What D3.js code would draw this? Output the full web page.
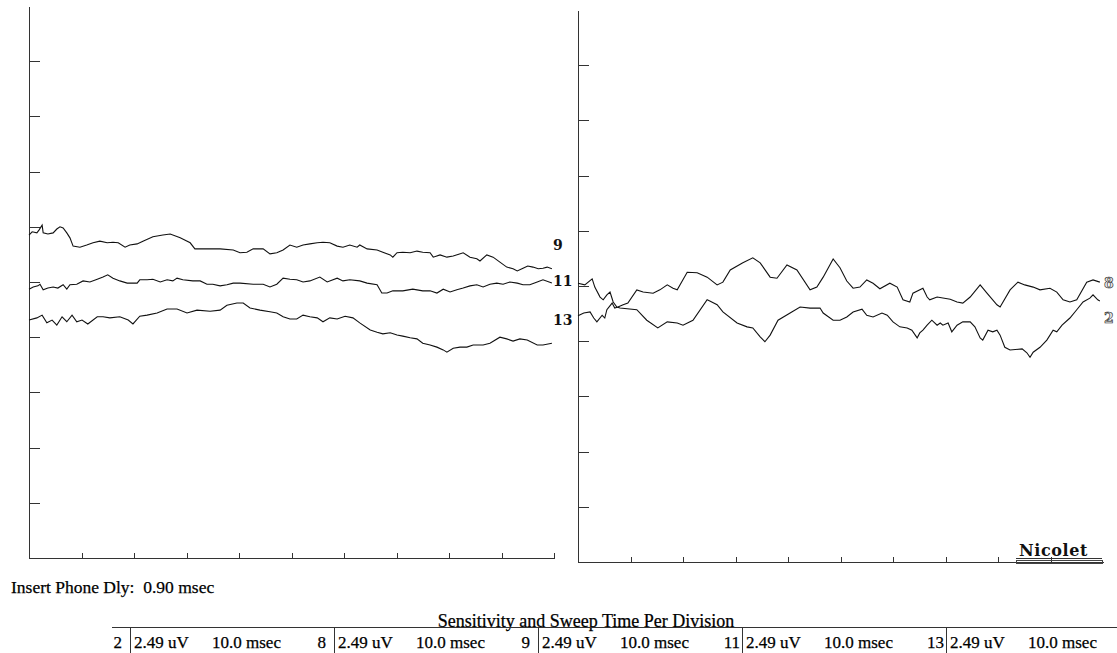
<!DOCTYPE html>
<html>
<head>
<meta charset="utf-8">
<script src="https://cdn.jsdelivr.net/npm/d3@7/dist/d3.min.js"></script>
<style>
body{margin:0;background:#fff}
svg{display:block}
.axis path,.axis line{stroke:#333;stroke-width:1;shape-rendering:crispEdges}
.trace{fill:none;stroke:#111;stroke-width:1.1}
.chan{font-family:"DejaVu Serif",serif;font-weight:bold;font-size:14px;fill:#111}
.chan.hollow{fill:#e6e6e6;stroke:#222;stroke-width:.6}
.foot{font-family:"Liberation Serif","Times New Roman",serif;fill:#000;stroke:#000;stroke-width:.25}
.rule{stroke:#333;stroke-width:1;shape-rendering:crispEdges}
</style>
</head>
<body>
<div id="chart"></div>
<script>
// x in msec (10 msec / division), y in divisions from bottom of the panel
var time_ticks=[10,20,30,40,50,60,70,80,90,100]
var div_ticks=[1,2,3,4,5,6,7,8,9]

var trace_9=[[0,5.85],[0.6,5.91],[1.5,5.89],[1.9,5.94],[2.5,6.03],[2.7,5.89],[3.6,5.87],[4.6,5.89],[5.3,5.96],[5.9,6.00],[6.5,5.98],[7.2,5.89],[7.8,5.80],[8.4,5.65],[9.7,5.63],[11.0,5.67],[12.2,5.71],[13.5,5.74],[14.9,5.71],[16.0,5.72],[17.0,5.71],[18.3,5.63],[19.2,5.67],[20.6,5.69],[21.7,5.74],[23.6,5.82],[25.5,5.85],[26.9,5.87],[28.8,5.80],[30.7,5.71],[31.6,5.60],[33.9,5.60],[36.4,5.60],[38.9,5.58],[40.2,5.53],[41.5,5.54],[42.7,5.60],[44.6,5.60],[45.9,5.51],[47.2,5.53],[48.4,5.58],[49.7,5.67],[51.0,5.63],[52.2,5.67],[53.5,5.69],[54.9,5.71],[56.0,5.72],[57.3,5.71],[58.7,5.65],[59.8,5.63],[61.1,5.67],[62.5,5.63],[63.0,5.67],[64.4,5.60],[66.3,5.58],[67.4,5.54],[68.8,5.49],[69.3,5.45],[70.1,5.53],[71.2,5.54],[72.6,5.53],[73.9,5.56],[75.0,5.54],[76.4,5.53],[77.0,5.45],[78.3,5.49],[79.6,5.45],[80.8,5.47],[82.7,5.53],[84.0,5.45],[85.3,5.42],[85.9,5.38],[87.2,5.49],[88.4,5.45],[89.7,5.36],[91.0,5.27],[92.2,5.24],[93.0,5.20],[94.1,5.25],[95.0,5.29],[96.0,5.27],[97.0,5.24],[97.9,5.25],[98.7,5.27],[99.6,5.24]]

var trace_11=[[0,4.87],[0.8,4.91],[1.7,4.93],[2.1,4.96],[2.7,4.86],[3.6,4.89],[4.6,4.91],[5.5,4.89],[6.5,4.95],[7.2,4.87],[7.8,4.95],[9.1,4.96],[10.3,5.02],[11.6,5.00],[13.0,5.05],[14.1,5.09],[15.0,5.13],[16.0,5.07],[17.3,5.02],[18.7,4.98],[20.6,4.98],[21.1,5.04],[22.5,5.04],[23.6,5.05],[25.0,5.00],[26.3,5.04],[27.4,5.02],[28.2,5.07],[29.3,5.04],[31.2,5.02],[32.6,5.02],[33.9,4.96],[35.0,4.96],[36.4,4.93],[37.7,4.95],[38.9,4.98],[40.2,4.98],[42.7,4.96],[44.6,4.96],[45.9,4.91],[47.2,4.96],[48.4,5.07],[49.7,5.05],[51.0,5.04],[52.2,5.00],[53.5,5.02],[55.4,5.09],[56.8,5.00],[58.7,5.07],[59.8,5.02],[61.1,5.04],[63.0,5.02],[64.4,4.98],[66.3,4.95],[67.2,4.80],[68.2,4.80],[69.3,4.84],[71.2,4.84],[73.1,4.87],[75.0,4.84],[76.4,4.84],[77.7,4.80],[78.9,4.87],[80.2,4.82],[81.5,4.86],[82.7,4.89],[84.0,4.93],[85.3,4.95],[86.5,4.91],[87.8,4.96],[89.1,4.98],[90.3,4.96],[91.6,5.00],[93.0,4.98],[94.1,4.95],[95.4,4.95],[96.8,5.00],[97.9,5.04],[99.6,4.98]]

var trace_13=[[0,4.31],[1.5,4.35],[2.5,4.40],[3.4,4.26],[4.4,4.31],[5.3,4.22],[6.3,4.37],[7.2,4.28],[8.2,4.40],[9.1,4.28],[10.1,4.31],[11.2,4.24],[13.0,4.37],[14.1,4.37],[15.4,4.35],[17.3,4.37],[18.9,4.31],[19.8,4.24],[21.1,4.38],[22.5,4.40],[24.4,4.44],[26.3,4.51],[28.2,4.51],[30.1,4.44],[32.0,4.49],[34.5,4.47],[36.4,4.49],[37.7,4.58],[39.6,4.62],[40.8,4.62],[42.1,4.53],[44.0,4.49],[45.9,4.46],[47.2,4.44],[48.4,4.37],[49.7,4.33],[51.0,4.33],[52.2,4.40],[53.5,4.37],[54.9,4.35],[56.0,4.28],[57.3,4.35],[58.7,4.33],[60.2,4.38],[61.7,4.35],[63.0,4.26],[65.0,4.13],[66.3,4.09],[67.4,4.06],[68.8,4.08],[70.1,4.04],[71.2,4.02],[72.6,3.99],[73.9,3.97],[75.0,3.89],[76.4,3.86],[77.7,3.82],[78.9,3.77],[79.6,3.73],[80.8,3.80],[82.1,3.82],[83.4,3.82],[84.6,3.86],[86.5,3.86],[87.8,3.89],[89.7,4.00],[91.0,3.97],[92.2,3.93],[93.5,3.97],[94.9,3.95],[96.8,3.86],[97.9,3.86],[99.6,3.89]]

var trace_8=[[0,4.46],[1.1,4.51],[2.3,4.53],[3.0,4.42],[3.6,4.35],[4.6,4.47],[5.1,4.42],[5.5,4.57],[6.5,4.69],[7.0,4.60],[7.6,4.62],[8.6,4.66],[9.5,4.69],[11.2,4.93],[12.4,4.89],[14.3,4.87],[15.6,4.93],[17.0,5.02],[18.1,4.96],[18.9,4.93],[20.8,5.25],[22.7,5.24],[24.6,5.16],[26.5,5.02],[27.6,5.07],[29.0,5.29],[31.4,5.42],[33.3,5.51],[34.7,5.42],[36.6,5.16],[37.9,5.14],[39.8,5.38],[41.7,5.29],[44.2,4.93],[45.5,4.98],[46.7,5.16],[48.6,5.49],[49.9,5.33],[51.2,5.09],[52.4,4.96],[53.7,4.98],[55.0,5.11],[56.2,5.05],[57.5,4.95],[59.4,5.05],[60.8,4.98],[61.9,4.75],[63.2,4.71],[63.8,4.87],[65.7,4.96],[66.5,4.80],[67.0,4.75],[68.4,4.80],[70.9,4.76],[72.2,4.71],[73.3,4.69],[74.7,4.80],[76.6,5.02],[77.9,4.87],[79.8,4.66],[80.4,4.62],[82.3,4.93],[83.8,5.07],[85.1,5.02],[86.7,4.98],[88.0,4.93],[89.9,4.96],[91.2,4.89],[92.4,4.75],[93.7,4.71],[95.0,4.75],[96.9,5.07],[98.1,5.11],[99.4,5.07]]

var trace_2=[[0,5.05],[1.3,5.02],[2.7,5.13],[3.2,4.98],[4.2,4.80],[4.8,4.75],[5.5,4.84],[6.1,4.89],[6.7,4.71],[7.4,4.62],[8.0,4.60],[11.2,4.57],[13.1,4.38],[15.2,4.24],[17.0,4.35],[18.9,4.33],[20.0,4.29],[21.9,4.38],[24.6,4.75],[25.1,4.73],[26.5,4.66],[27.6,4.53],[30.3,4.33],[32.2,4.26],[33.3,4.24],[34.7,4.08],[35.6,3.99],[36.6,4.11],[38.1,4.38],[40.4,4.51],[42.3,4.62],[44.2,4.60],[46.1,4.60],[46.7,4.51],[48.6,4.38],[49.9,4.38],[51.2,4.44],[52.4,4.53],[54.1,4.58],[55.0,4.47],[56.2,4.44],[57.9,4.51],[58.9,4.47],[60.0,4.35],[61.3,4.26],[62.7,4.24],[63.6,4.20],[64.6,4.06],[65.1,4.15],[65.7,4.20],[66.5,4.29],[67.4,4.38],[68.4,4.29],[69.0,4.33],[69.5,4.29],[70.5,4.33],[71.2,4.17],[72.2,4.29],[73.3,4.35],[74.7,4.35],[75.6,4.26],[76.6,4.06],[77.1,4.02],[78.1,4.20],[79.0,4.17],[79.8,4.20],[80.4,4.11],[81.3,3.89],[82.3,3.84],[84.6,3.86],[85.5,3.79],[86.1,3.71],[86.7,3.80],[88.0,3.89],[89.3,4.02],[90.5,4.20],[91.2,4.17],[92.2,4.29],[93.7,4.42],[95.0,4.57],[96.2,4.71],[97.5,4.78],[98.1,4.84],[99.0,4.75],[99.4,4.73]]

var left_ids=["9","11","13"]
var left_levels=[5.67,5.02,4.31]
var right_ids=["8","2"]
var right_levels=[5.05,4.42]

var channels=["2","8","9","11","13"]
var sensitivity=["2.49 uV","2.49 uV","2.49 uV","2.49 uV","2.49 uV"]
var sweep=["10.0 msec","10.0 msec","10.0 msec","10.0 msec","10.0 msec"]
var insert_text="Insert Phone Dly:\u00a0 0.90 msec"
var table_title="Sensitivity and Sweep Time Per Division"
var brand="Nicolet"

var svg=d3.select("#chart").append("svg")
  .attr("width",1117).attr("height",653)

function draw_panel(p){
  var x=d3.scaleLinear().domain([0,100]).range([p.left,p.right])
  var y=d3.scaleLinear().domain([0,10]).range([p.bottom,p.top])
  var g=svg.append("g")

  g.append("g").attr("class","axis")
    .attr("transform","translate(0,"+p.bottom+")")
    .call(d3.axisBottom(x).tickValues(p.xticks).tickSizeInner(-5).tickSizeOuter(0).tickFormat(""))
  g.append("g").attr("class","axis")
    .attr("transform","translate("+p.left+",0)")
    .call(d3.axisLeft(y).tickValues(div_ticks).tickSizeInner(-11).tickSizeOuter(0).tickFormat(""))

  var line=d3.line().x(function(d){return x(d[0])}).y(function(d){return y(d[1])})
  p.traces.forEach(function(t){
    g.append("path").attr("class","trace").attr("d",line(t))
  })

  g.selectAll(".chan").data(p.ids).enter().append("text")
    .attr("class",p.hollow?"chan hollow":"chan")
    .attr("x",x(100)+p.labelDx)
    .attr("y",function(d,i){return y(p.levels[i])})
    .attr("dy","0.36em")
    .text(function(d){return d})
  return {x:x,y:y}
}

draw_panel({left:29,right:554,top:6,bottom:558,xticks:time_ticks,
  traces:[trace_9,trace_11,trace_13],ids:left_ids,levels:left_levels,labelDx:-1,hollow:false})
draw_panel({left:578,right:1103,top:10,bottom:562,xticks:time_ticks.slice(0,9),
  traces:[trace_8,trace_2],ids:right_ids,levels:right_levels,labelDx:1,hollow:true})

// brand mark in the right panel
svg.append("text").attr("class","chan")
  .attr("x",1019).attr("y",556)
  .style("font-size","16px").style("letter-spacing","0.6px")
  .text(brand)
svg.append("line").attr("class","rule")
  .attr("x1",1016).attr("x2",1102).attr("y1",558.5).attr("y2",558.5)
svg.append("rect")
  .attr("x",1016.5).attr("y",560.5).attr("width",86).attr("height",3)
  .attr("fill","none").attr("stroke","#444").attr("stroke-width",1)

// footer
svg.append("text").attr("class","foot")
  .attr("x",11).attr("y",593).style("font-size","17.5px")
  .text(insert_text)

svg.append("text").attr("class","foot")
  .attr("x",586).attr("y",627).attr("text-anchor","middle").style("font-size","18px")
  .text(table_title)
svg.append("line").attr("class","rule")
  .attr("x1",112).attr("x2",1117).attr("y1",627.5).attr("y2",627.5)

var col0=130, colStep=204
var cells=svg.selectAll(".cell").data(channels).enter().append("g")
  .attr("transform",function(d,i){return "translate("+(col0+i*colStep)+",0)"})
cells.append("line").attr("class","rule")
  .attr("x1",0.5).attr("x2",0.5).attr("y1",628).attr("y2",653)
cells.append("text").attr("class","foot").style("font-size","17px")
  .attr("x",function(d){return d.length>1?-2:-8}).attr("y",648)
  .attr("text-anchor","end").text(function(d){return d})
cells.append("text").attr("class","foot").style("font-size","17px")
  .attr("x",4).attr("y",648).text(function(d,i){return sensitivity[i]})
cells.append("text").attr("class","foot").style("font-size","17px")
  .attr("x",82).attr("y",648).text(function(d,i){return sweep[i]})
</script>
</body>
</html>
